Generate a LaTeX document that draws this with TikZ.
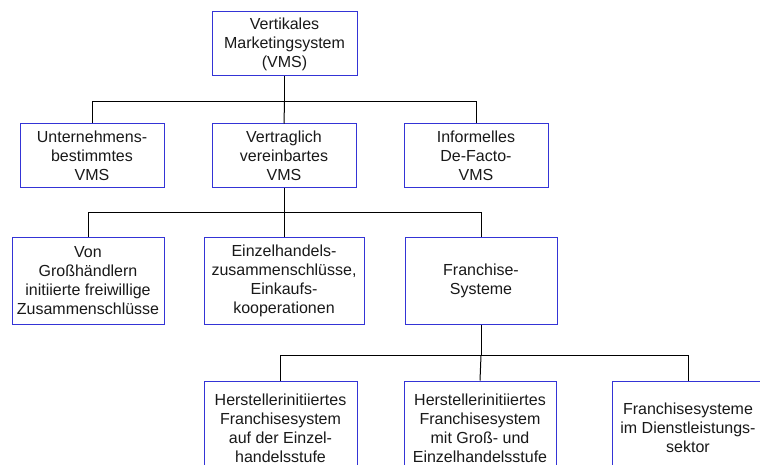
\documentclass[tikz,border=0pt]{standalone}
\usepackage{fontspec}
\setmainfont{Liberation Sans}
\definecolor{boxblue}{RGB}{52,52,214}
\definecolor{txt}{RGB}{25,25,25}
\begin{document}
\begin{tikzpicture}[x=1pt,y=-1pt,
  orgbox/.style={draw=boxblue,line width=1pt,fill=white,rectangle,inner sep=0pt,
    align=center,text=txt,font=\fontsize{16}{19}\selectfont},
  link/.style={draw=black,line width=1pt}]
\useasboundingbox (0,0) rectangle (760,465);
\clip (0,0) rectangle (760,465);

% top level
\node[orgbox,minimum width=145pt,minimum height=64pt] (vms) at (284.5,44)
  {Vertikales\\Marketingsystem\\(VMS)};

% first level
\node[orgbox,minimum width=144pt,minimum height=64pt] (ub) at (92,156)
  {Unternehmens-\\bestimmtes\\VMS};
\node[orgbox,minimum width=144pt,minimum height=64pt] (vv) at (284,156)
  {Vertraglich\\vereinbartes\\VMS};
\node[orgbox,minimum width=144pt,minimum height=64pt] (inf) at (476,156)
  {Informelles\\De-Facto-\\VMS};

% second level
\node[orgbox,minimum width=152pt,minimum height=87pt] (gh) at (88,280.5)
  {Von\\Großhändlern\\initiierte freiwillige\\Zusammenschlüsse};
\node[orgbox,minimum width=160pt,minimum height=87pt] (eh) at (284,280.5)
  {Einzelhandels-\\zusammenschlüsse,\\Einkaufs-\\kooperationen};
\node[orgbox,minimum width=152pt,minimum height=87pt] (fs) at (481,280.5)
  {Franchise-\\Systeme};

% third level
\node[orgbox,minimum width=153pt,minimum height=94pt] (he) at (280.5,428)
  {Herstellerinitiiertes\\Franchisesystem\\auf der Einzel-\\handelsstufe};
\node[orgbox,minimum width=152pt,minimum height=94pt] (hg) at (480,428)
  {Herstellerinitiiertes\\Franchisesystem\\mit Groß- und\\Einzelhandelsstufe};
\node[orgbox,minimum width=152pt,minimum height=94pt] (dl) at (688,428)
  {Franchisesysteme\\im Dienstleistungs-\\sektor};

% connectors
\draw[link] (vms.south) -- ++(0,25) coordinate (b1);
\draw[link] (b1) -| (ub.north);
\draw[link] (b1) -| (inf.north);
\draw[link] (b1) -- (vv.north);

\draw[link] (vv.south) -- ++(0,24) coordinate (b2);
\draw[link] (b2) -| (gh.north);
\draw[link] (b2) -| (fs.north);
\draw[link] (b2) -- (eh.north);

\draw[link] (fs.south) -- ++(0,31) coordinate (b3);
\draw[link] (b3) -| (he.north);
\draw[link] (b3) -| (dl.north);
\draw[link] (b3) -- (hg.north);
\end{tikzpicture}
\end{document}
